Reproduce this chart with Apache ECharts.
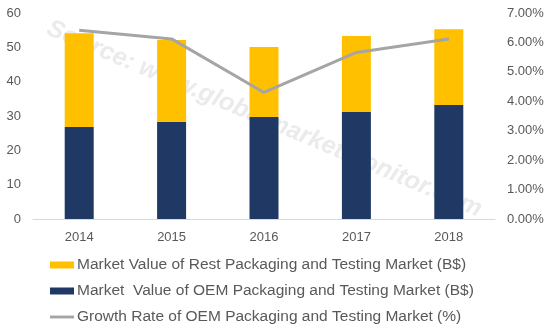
<!DOCTYPE html>
<html><head><meta charset="utf-8">
<script src="https://cdn.jsdelivr.net/npm/echarts@6/dist/echarts.min.js"></script>
<style>html,body{margin:0;padding:0;background:#fff}#c{width:550px;height:330px}</style>
</head><body><div id="c"></div>
<script>
const categories = ['2014', '2015', '2016', '2017', '2018'];
const oemValues = [26.8, 28.3, 29.7, 31.2, 33.2];
const restValues = [27.3, 23.8, 20.4, 22.1, 22.1];
const growthRates = [6.41, 6.12, 4.30, 5.66, 6.12];
const nameRest = 'Market Value of Rest Packaging and Testing Market (B$)';
const nameOem = 'Market  Value of OEM Packaging and Testing Market (B$)';
const nameGrowth = 'Growth Rate of OEM Packaging and Testing Market (%)';

const chart = echarts.init(document.getElementById('c'), null, {renderer: 'canvas'});
const font = '"Liberation Sans", Arial, sans-serif';
chart.setOption({
  animation: false,
  textStyle: {fontFamily: font},
  grid: {left: 33, right: 55, top: 13, bottom: 111},
  graphic: [{
    type: 'text', left: 43, top: 16, rotation: -0.40, z: -10, zlevel: 0,
    style: {text: 'Source: www.globalmarketmonitor.com', fontSize: 25, fontWeight: 'bold', fontStyle: 'italic',
      fill: '#EBEBEB', fontFamily: font},
    silent: true
  }],
  xAxis: {
    type: 'category', data: categories,
    axisLine: {lineStyle: {color: '#D9D9D9', width: 1}},
    axisTick: {show: false},
    axisLabel: {color: '#595959', fontSize: 13, margin: 12}
  },
  yAxis: [{
    type: 'value', min: 0, max: 60, interval: 10,
    splitLine: {show: false}, axisLine: {show: false}, axisTick: {show: false},
    axisLabel: {color: '#595959', fontSize: 13, margin: 12}
  }, {
    type: 'value', min: 0, max: 7, interval: 1,
    splitLine: {show: false}, axisLine: {show: false}, axisTick: {show: false},
    axisLabel: {color: '#595959', fontSize: 13, margin: 12, formatter: v => v.toFixed(2) + '%'}
  }],
  legend: {
    orient: 'vertical', left: 50, top: 256, itemGap: 8, padding: 0, height: 80,
    itemWidth: 24, itemHeight: 7,
    data: [{name: nameRest, icon: 'rect'}, {name: nameOem, icon: 'rect'}, {name: nameGrowth, icon: 'path://M0,0H25V3H0Z'}],
    textStyle: {color: '#595959', fontSize: 15.5, lineHeight: 18, padding: [0, 0, 0, -2]}
  },
  series: [{
    name: nameOem, type: 'bar', stack: 'a', data: oemValues, barWidth: 29,
    itemStyle: {color: '#1F3864'}
  }, {
    name: nameRest, type: 'bar', stack: 'a', data: restValues, barWidth: 29,
    itemStyle: {color: '#FFC000'}
  }, {
    name: nameGrowth, type: 'line', yAxisIndex: 1, data: growthRates,
    symbol: 'none', lineStyle: {color: '#A5A5A5', width: 3}, itemStyle: {color: '#A5A5A5'}
  }]
});
</script></body></html>
